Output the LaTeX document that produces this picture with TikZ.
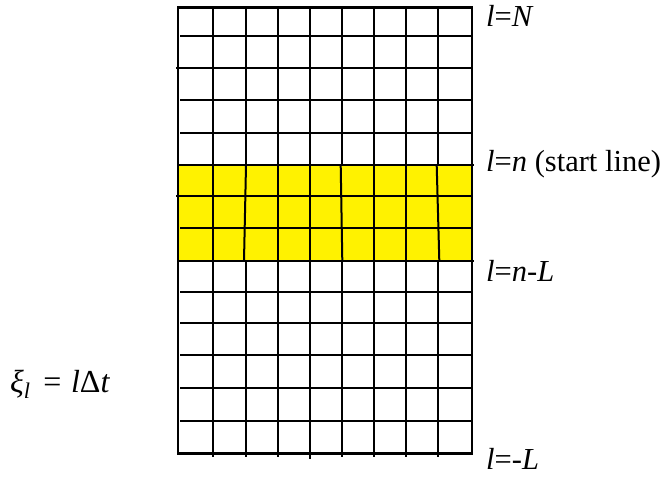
\documentclass[tikz,border=0pt]{standalone}
\usepackage{fontspec}
\setmainfont{Liberation Serif}
\begin{document}
\begin{tikzpicture}[x=1pt,y=-1pt,
  gridline/.style={line width=2pt,black},
  hline/.style={line width=1.7pt,black},
  border/.style={line width=2.2pt,black},
  lbl/.style={anchor=base west,inner sep=0pt,text depth=0pt,font=\fontsize{30.5}{32}\selectfont},
  bandfill/.style={fill=yellow}]
\useasboundingbox (0,0) rectangle (668,477);
% yellow band
\fill[bandfill] (178.3,165.3) rectangle (471.7,260.7);
% vertical lines, top block
\foreach \x in {213.3,245.5,277.5,310,341.7,374,406,437.5}
  \draw[gridline] (\x,7.5) -- (\x,165.3);
% vertical lines, yellow block (slightly uneven, as drawn by hand)
\foreach \a/\b in {213.3/213.3,246/244,277.5/277.5,310/310,340.7/342.3,374/374,406/406,436.7/439.3}
  \draw[gridline] (\a,165.3) -- (\b,260.7);
% vertical lines, bottom block
\foreach \x/\e in {213.3/456.7,245.5/456.7,277.5/456.7,310/459,341.7/456.7,374/456.7,406/456.7,437.5/456.7}
  \draw[gridline] (\x,260.7) -- (\x,\e);
% horizontal lines
\foreach \y in {36,100,132.7,228.3,291.7,322.7,355,387.7,421}
  \draw[hline] (180,\y) -- (471.7,\y);
\draw[hline] (176,68.3) -- (471.7,68.3);
\draw[hline] (176,196) -- (471.7,196);
\draw[hline] (178.3,165.3) -- (474,165.3);
\draw[hline] (178.3,260.7) -- (474,260.7);
% outer border
\draw[border] (178.3,7.5) rectangle (471.7,453.5);
% labels
\node[lbl] (lN) at (486,26) {\textit{l}=\textit{N}};
\node[lbl] (ln) at (486,171) {\textit{l}=\textit{n} (start line)};
\node[lbl] (lnL) at (486,281) {\textit{l}=\textit{n}-\textit{L}};
\node[lbl] (lmL) at (486,469) {\textit{l}=-\textit{L}};
\node[anchor=base west,inner sep=0pt,font=\fontsize{32}{34}\selectfont] (xi) at (10,392)
  {\textit{ξ}\textsubscript{\textit{l}}\hspace{0.4em}=\hspace{0.3em}\textit{l}Δ\textit{t}};
\end{tikzpicture}
\end{document}
